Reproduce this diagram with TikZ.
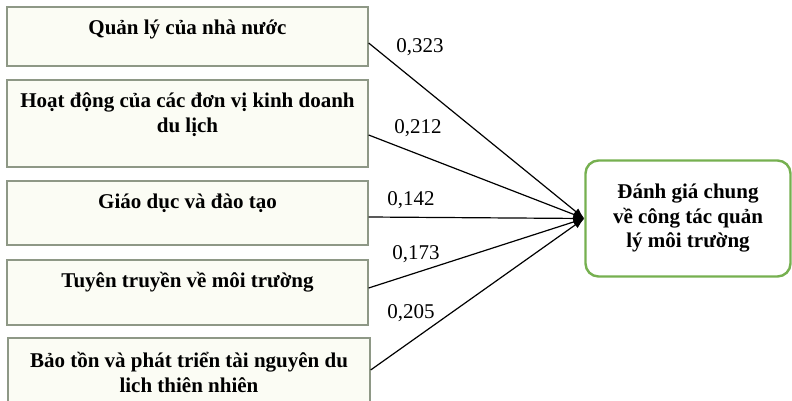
\documentclass[tikz,border=0pt]{standalone}
\usepackage{fontspec}
\setmainfont{Liberation Serif}
\usetikzlibrary{arrows.meta,calc}

\definecolor{boxline}{HTML}{8E9886}
\definecolor{boxfill}{HTML}{FBFCF4}
\definecolor{goalline}{HTML}{76B050}

\begin{document}
\begin{tikzpicture}[x=1pt,y=-1pt,
	factor/.style={draw=boxline, fill=boxfill, line width=1.3pt, minimum width=361pt, inner sep=0pt},
	factortext/.style={font=\fontsize{21}{25}\selectfont\bfseries, align=center, anchor=base, inner sep=0pt},
	goal/.style={draw=goalline, fill=white, line width=2.4pt, rounded corners=13pt, minimum width=205pt, minimum height=116pt, align=center, font=\fontsize{21}{24.5}\selectfont\bfseries},
	coef/.style={font=\fontsize{21}{22}\selectfont, inner sep=0pt},
	link/.style={line width=1.2pt, -{Latex[length=11pt,width=8pt]}}]
			%%%%% START %%%%%
			
			\useasboundingbox (0,0) rectangle (792,401);
			\clip (0,0) rectangle (792,401);
			
			% factor boxes
			\node[factor, minimum height=59pt] (b1) at (187.5, 36.5) {};
			\node[factor, minimum height=87pt] (b2) at (187.5, 123.5) {};
			\node[factor, minimum height=64pt] (b3) at (187.5, 213) {};
			\node[factor, minimum height=65pt] (b4) at (187.5, 292.5) {};
			\node[factor, minimum height=82pt, minimum width=362pt] (b5) at (189, 379) {};
			
			% base of a two-line text is its last line
			\node[factortext] (t1) at ($(b1.north)+(0,28)$) {Quản lý của nhà nước};
			\node[factortext] (t2) at ($(b2.north)+(0,53)$) {Hoạt động của các đơn vị kinh doanh\\du lịch};
			\node[factortext] (t3) at ($(b3.north)+(0,28)$) {Giáo dục và đào tạo};
			\node[factortext] (t4) at ($(b4.north)+(0,28)$) {Tuyên truyền về môi trường};
			\node[factortext] (t5) at ($(b5.north)+(0,55)$) {Bảo tồn và phát triển tài nguyên du\\lich thiên nhiên};
			
			% outcome
			\node[goal] (eval) at (688, 218.5) {Đánh giá chung\\về công tác quản\\lý môi trường};
			
			\draw[link] ([yshift=-6.5pt]b1.east) -- (eval.west);
			\draw[link] ([yshift=-11.5pt]b2.east) -- (eval.west);
			\draw[link] ([yshift=-4pt]b3.east) -- (eval.west);
			\draw[link] ([yshift=4.5pt]b4.east) -- (eval.west);
			\draw[link] ([yshift=9pt]b5.east) -- (eval.west);
			
			% coefficients
			\node[coef] (c1) at (420, 47) {0,323};
			\node[coef] (c2) at (418, 128) {0,212};
			\node[coef] (c3) at (411, 200) {0,142};
			\node[coef] (c4) at (416, 254) {0,173};
			\node[coef] (c5) at (411, 313) {0,205};
			
			%%%%% END %%%%%
\end{tikzpicture}
\end{document}
